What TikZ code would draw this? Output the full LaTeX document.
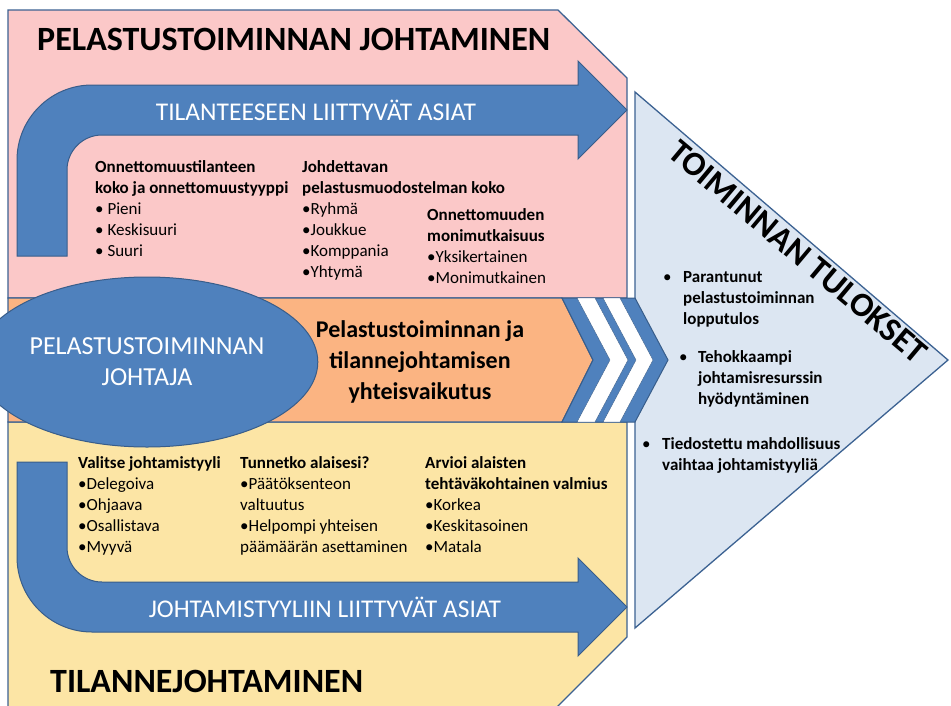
\documentclass[tikz,border=0pt]{standalone}
\usepackage{fontspec}
\setmainfont{Carlito}
\usepackage{tikz}
\usetikzlibrary{shapes}
\definecolor{rim}{RGB}{60,98,146}
\definecolor{arrowblue}{RGB}{79,129,189}
\definecolor{arrowrim}{RGB}{56,93,138}
\definecolor{pinkfill}{RGB}{251,200,200}
\definecolor{orangefill}{RGB}{251,180,130}
\definecolor{yellowfill}{RGB}{252,229,165}
\definecolor{trifill}{RGB}{220,230,242}

\begin{document}
\begin{tikzpicture}[x=1pt,y=-1pt,
  region/.style={draw=rim,line width=1.3pt},
  bigarrow/.style={fill=arrowblue,draw=arrowrim,line width=1pt},
  items/.style={anchor=base west,align=left,inner sep=0pt,font=\fontsize{17}{21}\selectfont},
  resitems/.style={items,font=\bfseries\fontsize{17}{21}\selectfont},
  bigtitle/.style={anchor=base west,inner sep=0pt,font=\bfseries\fontsize{34}{40}\selectfont},
  bandtext/.style={text=white,inner sep=0pt,font=\fontsize{25.5}{30}\selectfont}]
  \useasboundingbox (0,0) rectangle (951,705);
  \clip (0,0) rectangle (951,705);
  \fill[white] (0,0) rectangle (951,705);
  \draw[region,fill=trifill] (635,92) -- (948,360) -- (635,628) -- cycle;
  \draw[region,fill=pinkfill] (8,10) -- (558,10) -- (627,78) -- (627,298) -- (8,298) -- cycle;
  \draw[region,fill=yellowfill] (8,422) -- (627,422) -- (627,637) -- (555,709) -- (8,709) -- cycle;
  \draw[region,fill=orangefill] (8,298) -- (562,298) -- (593,360) -- (562,422) -- (8,422) -- cycle;
  \draw[bigarrow] (562,298) -- (635,298) -- (668,360) -- (635,422) -- (562,422) -- (593,360) -- cycle;
  \draw[fill=white,draw=arrowrim] (577,298) -- (595,298) -- (628,360) -- (595,422) -- (577,422) -- (610,360) -- cycle;
  \draw[fill=white,draw=arrowrim] (603,298) -- (620,298) -- (653,360) -- (620,422) -- (603,422) -- (636,360) -- cycle;
  \draw[bigarrow] (17,256) -- (17,160) .. controls (17,118.6) and (50.6,85) .. (92,85) -- (578,85) -- (578,61)
    -- (627,110) -- (578,159) -- (578,135) -- (102,135) .. controls (82.7,135) and (67,150.7) .. (67,170) -- (67,256) -- cycle;
  \draw[bigarrow] (17,462) -- (17,557) .. controls (17,598.4) and (50.6,632) .. (92,632) -- (578,632) -- (578,656)
    -- (627,607) -- (578,558) -- (578,582) -- (102,582) .. controls (82.7,582) and (67,566.3) .. (67,547) -- (67,462) -- cycle;
  \node[ellipse,fill=arrowblue,draw=arrowrim,line width=1pt,minimum width=280pt,minimum height=170pt,
    text=white,align=center,font=\fontsize{26}{31}\selectfont] (leader) at (147,362) {PELASTUSTOIMINNAN\\JOHTAJA};
  \node[bigtitle] (rescue) at (37,50) {PELASTUSTOIMINNAN JOHTAMINEN};
  \node[bigtitle] (situational) at (50,692) {TILANNEJOHTAMINEN};
  \node[bandtext] (situation) at (316,110) {TILANTEESEEN LIITTYVÄT ASIAT};
  \node[bandtext] (style) at (325,607) {JOHTAMISTYYLIIN LIITTYVÄT ASIAT};
  \node[align=center,font=\bfseries\fontsize{24}{31}\selectfont] (joint) at (420,362)
    {Pelastustoiminnan ja\\tilannejohtamisen\\yhteisvaikutus};
  \node[items] (size) at (95,256.5) {\textbf{Onnettomuustilanteen}\\\textbf{koko ja onnettomuustyyppi}\\• Pieni\\• Keskisuuri\\• Suuri};
  \node[items] (unit) at (302,277.5) {\textbf{Johdettavan}\\\textbf{pelastusmuodostelman koko}\\•Ryhmä\\•Joukkue\\•Komppania\\•Yhtymä};
  \node[items] (complex) at (427,283.5) {\textbf{Onnettomuuden}\\\textbf{monimutkaisuus}\\•Yksikertainen\\•Monimutkainen};
  \node[items] (choose) at (78,552.5) {\textbf{Valitse johtamistyyli}\\•Delegoiva\\•Ohjaava\\•Osallistava\\•Myyvä};
  \node[items] (know) at (240,552.5) {\textbf{Tunnetko alaisesi?}\\•Päätöksenteon\\valtuutus\\•Helpompi yhteisen\\päämäärän asettaminen};
  \node[items] (assess) at (425,552.5) {\textbf{Arvioi alaisten}\\\textbf{tehtäväkohtainen valmius}\\•Korkea\\•Keskitasoinen\\•Matala};
  \node[font=\bfseries\fontsize{34}{40}\selectfont,rotate=-40] (results) at (798,252) {TOIMINNAN TULOKSET};
  \node[items] (dot1) at (663,282.5) {•};
  \node[resitems] (res1) at (683,324.5) {Parantunut\\pelastustoiminnan\\lopputulos};
  \node[items] (dot2) at (679,362.5) {•};
  \node[resitems] (res2) at (698,404.5) {Tehokkaampi\\johtamisresurssin\\hyödyntäminen};
  \node[items] (dot3) at (642,449.5) {•};
  \node[resitems] (res3) at (662,470.5) {Tiedostettu mahdollisuus\\vaihtaa johtamistyyliä};
\end{tikzpicture}
\end{document}
